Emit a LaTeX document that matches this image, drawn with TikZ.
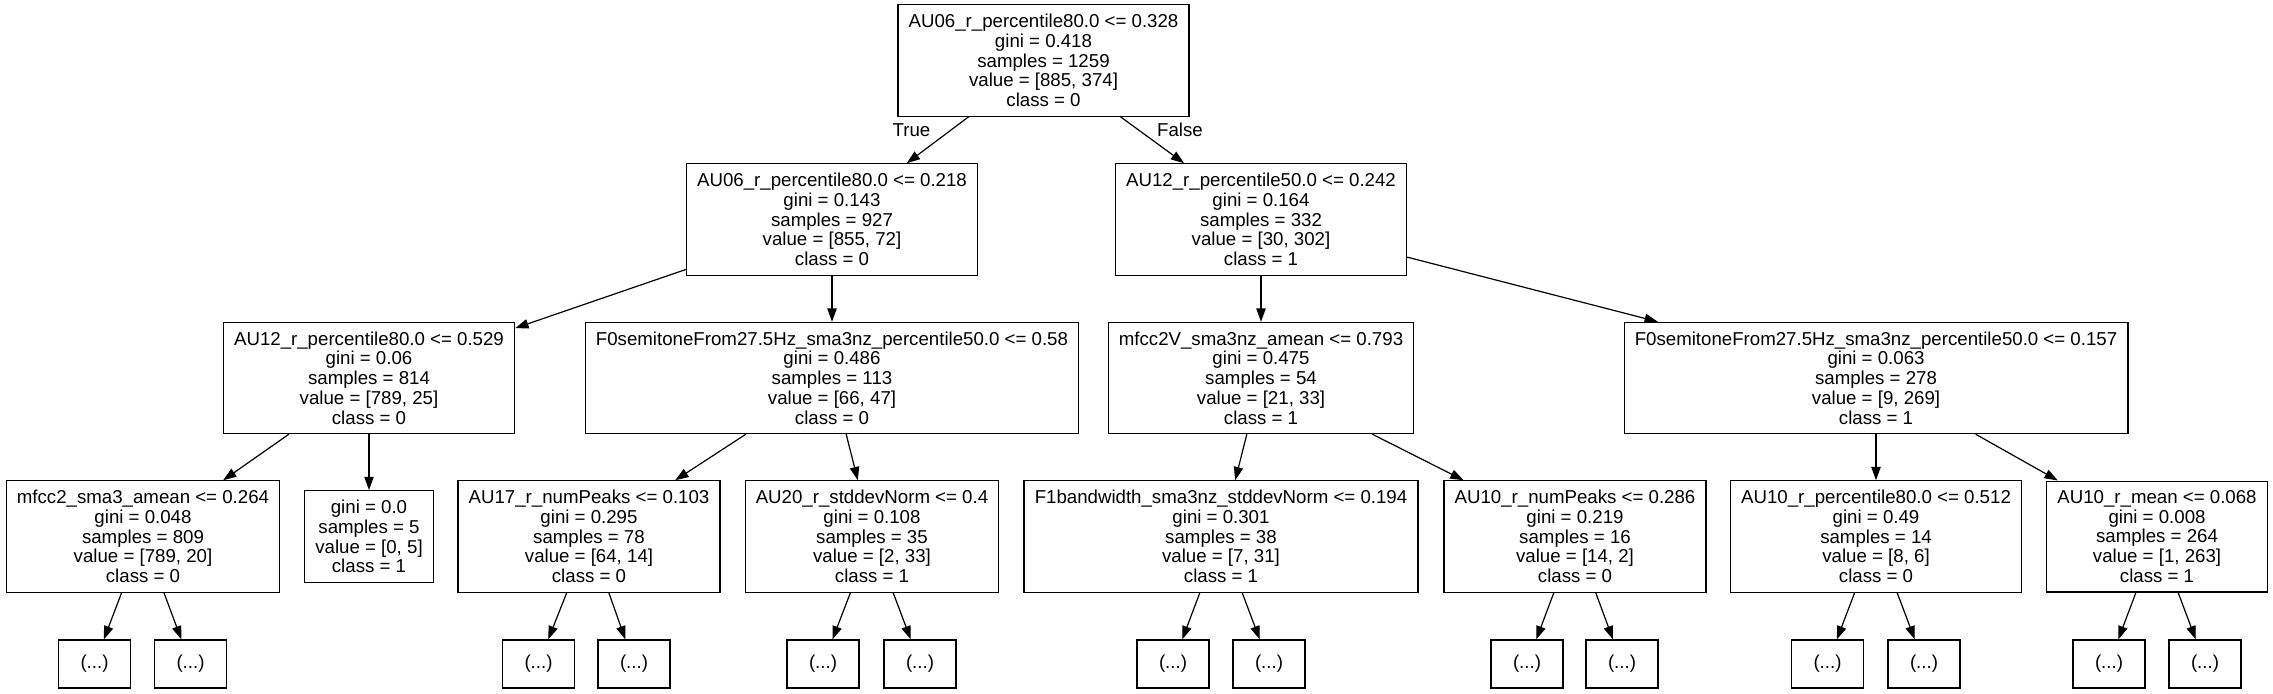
\documentclass[tikz,border=0pt]{standalone}
\usepackage{fontspec}
\setmainfont{Liberation Sans}
\usetikzlibrary{arrows.meta}
\tikzset{
  split/.style={draw, line width=0.9pt, align=center, inner xsep=8pt, inner ysep=7pt, font=\fontsize{14}{14.8}\selectfont},
  leaf/.style={draw, line width=0.9pt, minimum width=54pt, minimum height=36pt, font=\fontsize{14}{14.8}\selectfont},
  branch/.style={-{Triangle[length=10pt,width=7pt]}, line width=0.9pt}
}
\begin{document}
\begin{tikzpicture}[x=0.75pt, y=-0.75pt]
\useasboundingbox (0,0) rectangle (2273,693);
% root and first split
\node[split] (t) at (1043.5,60.5) {AU06\_r\_percentile80.0 <= 0.328\\gini = 0.418\\samples = 1259\\value = [885, 374]\\class = 0};
\node[split] (tl) at (832,219.5) {AU06\_r\_percentile80.0 <= 0.218\\gini = 0.143\\samples = 927\\value = [855, 72]\\class = 0};
\node[split] (tr) at (1261,219.5) {AU12\_r\_percentile50.0 <= 0.242\\gini = 0.164\\samples = 332\\value = [30, 302]\\class = 1};
\draw[branch] (t) -- (tl);
\draw[branch] (t) -- (tr);
\node at (911.5,130) [font=\fontsize{14}{14.8}\selectfont] (true) {True};
\node at (1180,130) [font=\fontsize{14}{14.8}\selectfont] (false) {False};
% second level
\node[split] (tll) at (369,378) {AU12\_r\_percentile80.0 <= 0.529\\gini = 0.06\\samples = 814\\value = [789, 25]\\class = 0};
\node[split] (tlr) at (832,378) {F0semitoneFrom27.5Hz\_sma3nz\_percentile50.0 <= 0.58\\gini = 0.486\\samples = 113\\value = [66, 47]\\class = 0};
\node[split] (trl) at (1261,378) {mfcc2V\_sma3nz\_amean <= 0.793\\gini = 0.475\\samples = 54\\value = [21, 33]\\class = 1};
\node[split] (trr) at (1876,378) {F0semitoneFrom27.5Hz\_sma3nz\_percentile50.0 <= 0.157\\gini = 0.063\\samples = 278\\value = [9, 269]\\class = 1};
\draw[branch] (tl) -- (tll);
\draw[branch] (tl) -- (tlr);
\draw[branch] (tr) -- (trl);
\draw[branch] (tr) -- (trr);
% third level
\node[split] (tlll) at (143,536.5) {mfcc2\_sma3\_amean <= 0.264\\gini = 0.048\\samples = 809\\value = [789, 20]\\class = 0};
\node[split] (tllr) at (369,536.5) {gini = 0.0\\samples = 5\\value = [0, 5]\\class = 1};
\node[split] (tlrl) at (589,536.5) {AU17\_r\_numPeaks <= 0.103\\gini = 0.295\\samples = 78\\value = [64, 14]\\class = 0};
\node[split] (tlrr) at (872,536.5) {AU20\_r\_stddevNorm <= 0.4\\gini = 0.108\\samples = 35\\value = [2, 33]\\class = 1};
\node[split] (trll) at (1221,536.5) {F1bandwidth\_sma3nz\_stddevNorm <= 0.194\\gini = 0.301\\samples = 38\\value = [7, 31]\\class = 1};
\node[split] (trlr) at (1575,536.5) {AU10\_r\_numPeaks <= 0.286\\gini = 0.219\\samples = 16\\value = [14, 2]\\class = 0};
\node[split] (trrl) at (1876,536.5) {AU10\_r\_percentile80.0 <= 0.512\\gini = 0.49\\samples = 14\\value = [8, 6]\\class = 0};
\node[split] (trrr) at (2157,536.5) {AU10\_r\_mean <= 0.068\\gini = 0.008\\samples = 264\\value = [1, 263]\\class = 1};
\draw[branch] (tll) -- (tlll);
\draw[branch] (tll) -- (tllr);
\draw[branch] (tlr) -- (tlrl);
\draw[branch] (tlr) -- (tlrr);
\draw[branch] (trl) -- (trll);
\draw[branch] (trl) -- (trlr);
\draw[branch] (trr) -- (trrl);
\draw[branch] (trr) -- (trrr);
% truncated subtrees
\node[leaf] (tllla) at (94.5,664) {(...)};
\node[leaf] (tlllb) at (190.5,664) {(...)};
\node[leaf] (tlrla) at (538.5,664) {(...)};
\node[leaf] (tlrlb) at (634,664) {(...)};
\node[leaf] (tlrra) at (823,664) {(...)};
\node[leaf] (tlrrb) at (920,664) {(...)};
\node[leaf] (trlla) at (1173,664) {(...)};
\node[leaf] (trllb) at (1269,664) {(...)};
\node[leaf] (trlra) at (1527,664) {(...)};
\node[leaf] (trlrb) at (1622,664) {(...)};
\node[leaf] (trrla) at (1827.5,664) {(...)};
\node[leaf] (trrlb) at (1924,664) {(...)};
\node[leaf] (trrra) at (2109,664) {(...)};
\node[leaf] (trrrb) at (2205,664) {(...)};
\draw[branch] (tlll) -- (tllla);
\draw[branch] (tlll) -- (tlllb);
\draw[branch] (tlrl) -- (tlrla);
\draw[branch] (tlrl) -- (tlrlb);
\draw[branch] (tlrr) -- (tlrra);
\draw[branch] (tlrr) -- (tlrrb);
\draw[branch] (trll) -- (trlla);
\draw[branch] (trll) -- (trllb);
\draw[branch] (trlr) -- (trlra);
\draw[branch] (trlr) -- (trlrb);
\draw[branch] (trrl) -- (trrla);
\draw[branch] (trrl) -- (trrlb);
\draw[branch] (trrr) -- (trrra);
\draw[branch] (trrr) -- (trrrb);
\end{tikzpicture}
\end{document}
